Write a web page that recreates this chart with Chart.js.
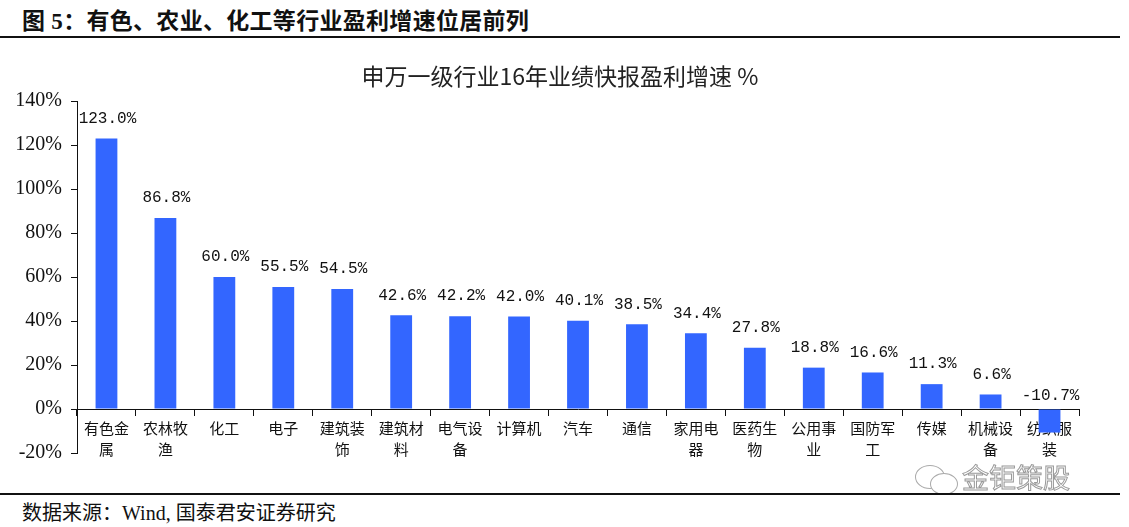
<!DOCTYPE html>
<html>
<head>
<meta charset="utf-8">
<script src="https://cdn.jsdelivr.net/npm/chart.js@4"></script>
<style>
    body { margin: 0; background: #fff; width: 1129px; height: 527px; position: relative; overflow: hidden; }
    .head { position: absolute; left: 22px; top: 2px; font: bold 23px 'Liberation Serif', 'Noto Sans CJK SC', serif; color: #111; letter-spacing: 0.3px; }
    .rule { position: absolute; left: 0; width: 1120px; height: 0; border-top: 2px solid #111; }
    .foot { position: absolute; left: 22px; top: 497px; font: 20px 'Liberation Serif', 'Noto Sans CJK SC', serif; color: #111; }
    .ctitle { position: absolute; left: 260px; width: 600px; top: 59px; text-align: center; font: 23px 'Noto Sans CJK SC', sans-serif; color: #222; line-height: 32px; }
    .mark { position: absolute; left: 962px; top: 457px; font: 27px 'Noto Sans CJK SC', sans-serif; color: #fff; -webkit-text-stroke: 1px #999; }
    .bub { position: absolute; border: 1px solid #aaa; border-radius: 50%; background: transparent; }
    #wrap { position: absolute; left: 0; top: 45px; width: 1129px; height: 445px; }
</style>
</head>
<body>
<div class="head">图 5：有色、农业、化工等行业盈利增速位居前列</div>
<div class="rule" style="top:36px"></div>
<div id="wrap"><canvas id="growthChart"></canvas></div>
<div class="ctitle">申万一级行业16年业绩快报盈利增速 %</div>
<div class="bub" style="left:915px;top:465px;width:28px;height:22px"></div>
<div class="bub" style="left:930px;top:473px;width:26px;height:20px;background:#fff"></div>
<div class="mark">金钜策股</div>
<div class="rule" style="top:493px"></div>
<div class="foot">数据来源：Wind, 国泰君安证券研究</div>

<script>
// 申万一级行业 16年业绩快报盈利增速 (%)
var industries = [
    ['有色金', '属'], ['农林牧', '渔'], '化工', '电子', ['建筑装', '饰'], ['建筑材', '料'],
    ['电气设', '备'], '计算机', '汽车', '通信', ['家用电', '器'], ['医药生', '物'],
    ['公用事', '业'], ['国防军', '工'], '传媒', ['机械设', '备'], ['纺织服', '装']
];
var growth = [123.0, 86.8, 60.0, 55.5, 54.5, 42.6, 42.2, 42.0, 40.1, 38.5, 34.4, 27.8, 18.8, 16.6, 11.3, 6.6, -10.7];
var yTicks = [-20, 0, 20, 40, 60, 80, 100, 120, 140];

// value labels above bars
var valueLabels = {
    id: 'valueLabels',
    afterDatasetsDraw: function (chart) {
        var ctx = chart.ctx;
        var meta = chart.getDatasetMeta(0);
        var zero = chart.scales.y.getPixelForValue(0);
        ctx.save();
        ctx.font = '16px "Liberation Mono", "DejaVu Sans Mono", monospace';
        ctx.fillStyle = '#111';
        ctx.textAlign = 'center';
        ctx.textBaseline = 'bottom';
        meta.data.forEach(function (bar, i) {
            var v = growth[i];
            var y = v >= 0 ? bar.y - 12 : zero - 5;
            ctx.fillText(v.toFixed(1) + '%', bar.x + 1, y);
        });
        ctx.restore();
    }
};

document.addEventListener('DOMContentLoaded', function () {
    var ctx = document.getElementById('growthChart').getContext('2d');
    new Chart(ctx, {
        type: 'bar',
        data: {
            labels: industries,
            datasets: [{
                label: '盈利增速',
                data: growth,
                backgroundColor: '#3366ff',
                barPercentage: 0.37,
                categoryPercentage: 1
            }]
        },
        options: {
            responsive: true,
            maintainAspectRatio: false,
            animation: false,
            layout: { padding: { left: 0, right: 50, top: 56, bottom: 37 } },
            plugins: {
                legend: { display: false },
                tooltip: { enabled: false },
                title: { display: false }
            },
            scales: {
                x: {
                    position: { y: 0 },
                    grid: { drawOnChartArea: false, drawTicks: true, tickLength: 6, color: '#111', offset: true },
                    border: { color: '#111', width: 1 },
                    ticks: {
                        color: '#111',
                        padding: 3,
                        maxRotation: 0,
                        autoSkip: false,
                        font: { family: 'Noto Sans CJK SC', size: 15, lineHeight: 1.4 }
                    }
                },
                y: {
                    min: -20,
                    max: 140,
                    afterFit: function (scale) { scale.width = 77; },
                    afterBuildTicks: function (scale) {
                        scale.ticks = yTicks.map(function (v) { return { value: v }; });
                    },
                    grid: { drawOnChartArea: false, drawTicks: true, tickLength: 6, color: '#111' },
                    border: { color: '#111', width: 1 },
                    ticks: {
                        color: '#111',
                        padding: 9,
                        font: { family: 'Liberation Serif', size: 20 },
                        callback: function (v) { return v + '%'; }
                    }
                }
            }
        },
        plugins: [valueLabels]
    });
});
</script>
</body>
</html>
